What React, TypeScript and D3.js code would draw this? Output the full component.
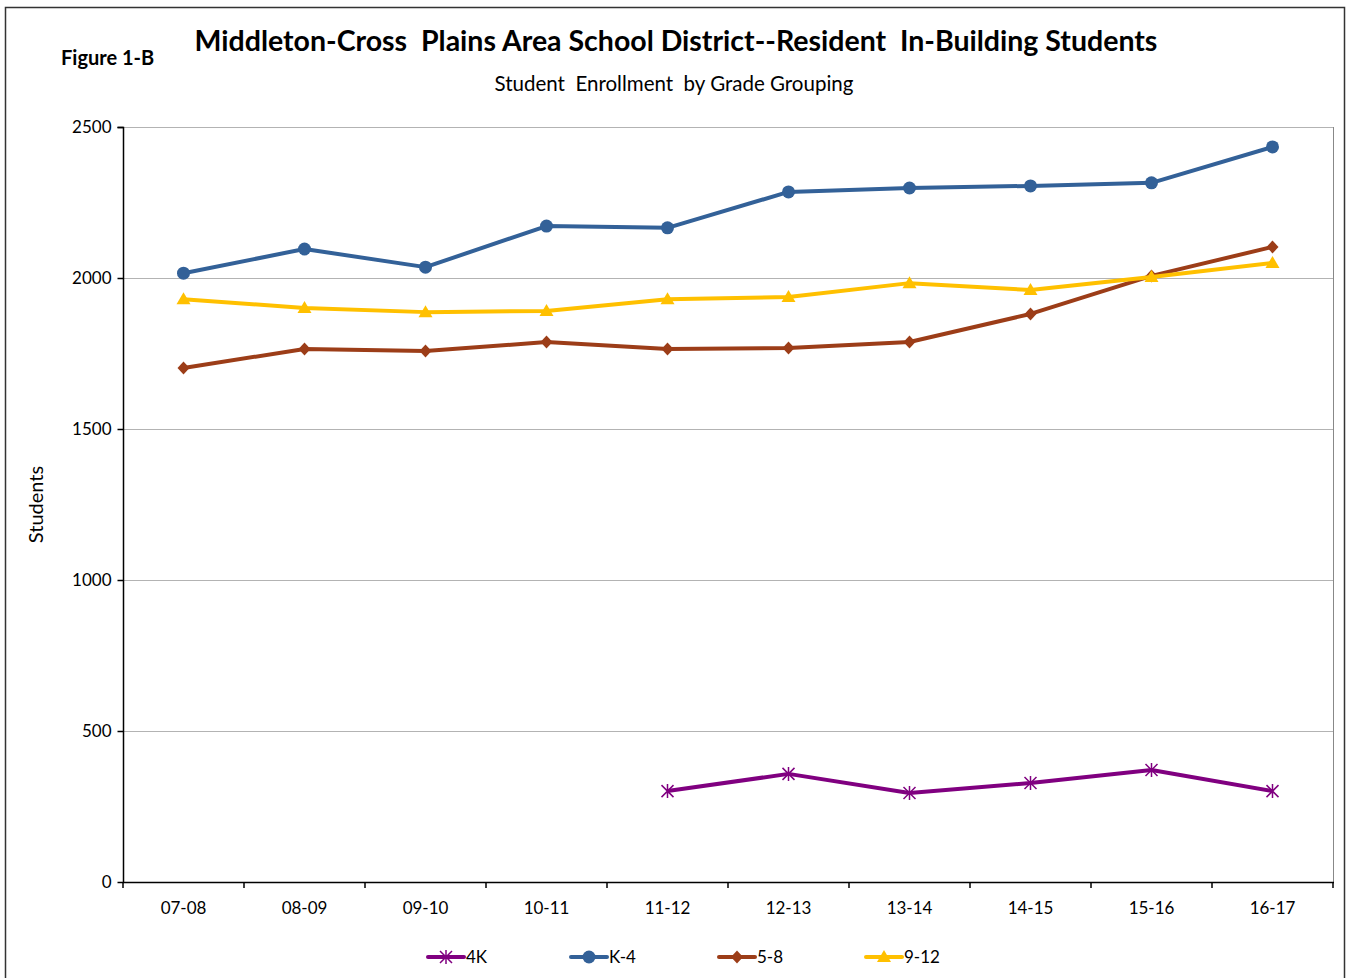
import React, { useEffect, useRef } from 'react';
import * as d3 from 'd3';

// Data
const years = ['07-08', '08-09', '09-10', '10-11', '11-12', '12-13', '13-14', '14-15', '15-16', '16-17'];
const k4 = [2016, 2096, 2036, 2172, 2166, 2285, 2298, 2305, 2315, 2434];
const g58 = [1702, 1765, 1758, 1788, 1765, 1768, 1788, 1881, 2007, 2103];
const g912 = [1930, 1901, 1887, 1891, 1930, 1937, 1983, 1960, 2003, 2050];
const fourK: (number | null)[] = [null, null, null, null, 301, 358, 295, 328, 371, 301];
const yTicks = [0, 500, 1000, 1500, 2000, 2500];

const FONT = "Lato, 'Open Sans', sans-serif";

const series = [
  { name: '4K', values: fourK, color: '#800080', marker: 'star' },
  { name: 'K-4', values: k4, color: '#336198', marker: 'circle' },
  { name: '5-8', values: g58, color: '#9C3D18', marker: 'diamond' },
  { name: '9-12', values: g912, color: '#FFC000', marker: 'triangle' },
];

const App: React.FC = () => {
  const svgRef = useRef<SVGSVGElement>(null);

  useEffect(() => {
    if (!svgRef.current) return;
    const width = 1350;
    const height = 978;
    const svg = d3.select(svgRef.current);
    svg.selectAll('*').remove();
    svg.attr('width', width).attr('height', height);

    svg.append('rect').attr('width', width).attr('height', height).attr('fill', '#fff');
    // outer chart frame
    svg.append('rect')
      .attr('x', 5.5).attr('y', 7.5).attr('width', 1339).attr('height', 990)
      .attr('fill', 'none').attr('stroke', '#333').attr('stroke-width', 1.5);

    const left = 123, right = 1333, top = 127, bottom = 882;

    const x = d3.scaleBand().domain(years).range([left, right]);
    const y = d3.scaleLinear().domain([0, 2500]).range([bottom, top]);

    // gridlines
    svg.append('g')
      .selectAll('line')
      .data(yTicks.filter(t => t > 0))
      .enter()
      .append('line')
      .attr('x1', left).attr('x2', right)
      .attr('y1', d => y(d) + 0.5).attr('y2', d => y(d) + 0.5)
      .attr('stroke', '#b3b3b3').attr('stroke-width', 1);

    // right border of plot area
    svg.append('line')
      .attr('x1', right + 0.5).attr('x2', right + 0.5)
      .attr('y1', top).attr('y2', bottom)
      .attr('stroke', '#888').attr('stroke-width', 1);

    // y axis
    const yAxis = svg.append('g')
      .attr('transform', `translate(${left + 0.5},0)`)
      .call(d3.axisLeft(y).tickValues(yTicks).tickFormat(d3.format('d')).tickSize(6).tickPadding(6));
    yAxis.select('.domain').attr('stroke', '#000').attr('stroke-width', 1.5).attr('d', `M-6,${top + 0.5}H0V${bottom}`);
    yAxis.selectAll('.tick line').attr('stroke', '#000').attr('stroke-width', 1.5);
    yAxis.selectAll('.tick text').attr('font-family', FONT).attr('font-size', 17).attr('fill', '#000');

    // x axis
    const xAxis = svg.append('g')
      .attr('transform', `translate(0,${bottom + 0.5})`)
      .call(d3.axisBottom(x).tickSize(0).tickPadding(19));
    xAxis.select('.domain').attr('stroke', '#000').attr('stroke-width', 1.5).attr('d', `M${left},0H${right + 1}`);
    xAxis.selectAll('.tick text').attr('font-family', FONT).attr('font-size', 17).attr('fill', '#000');
    svg.append('g')
      .selectAll('line')
      .data(d3.range(years.length + 1))
      .enter()
      .append('line')
      .attr('x1', i => left + i * x.bandwidth()).attr('x2', i => left + i * x.bandwidth())
      .attr('y1', bottom).attr('y2', bottom + 6)
      .attr('stroke', '#000').attr('stroke-width', 1.5);

    const cx = (d: string) => (x(d) as number) + x.bandwidth() / 2;

    const drawMarker = (g: d3.Selection<SVGGElement, unknown, null, undefined>, type: string, px: number, py: number, color: string) => {
      if (type === 'circle') {
        g.append('circle').attr('cx', px).attr('cy', py).attr('r', 6.5).attr('fill', color);
      } else if (type === 'diamond') {
        g.append('path').attr('d', `M${px},${py - 6.5}L${px + 6},${py}L${px},${py + 6.5}L${px - 6},${py}Z`).attr('fill', color);
      } else if (type === 'triangle') {
        g.append('path').attr('d', `M${px},${py - 7}L${px + 7},${py + 5}L${px - 7},${py + 5}Z`).attr('fill', color);
      } else if (type === 'star') {
        const s = 6;
        g.append('path')
          .attr('d', `M${px - s},${py - s}L${px + s},${py + s}M${px - s},${py + s}L${px + s},${py - s}M${px},${py - s - 1}L${px},${py + s + 1}`)
          .attr('stroke', color).attr('stroke-width', 1.5).attr('fill', 'none');
      }
    };

    const line = d3.line<{ year: string; v: number | null }>()
      .defined(d => d.v !== null)
      .x(d => cx(d.year))
      .y(d => y(d.v as number));

    series.forEach(s => {
      const pts = years.map((yr, i) => ({ year: yr, v: s.values[i] }));
      const g = svg.append('g');
      g.append('path')
        .datum(pts)
        .attr('d', line)
        .attr('fill', 'none')
        .attr('stroke', s.color)
        .attr('stroke-width', 4)
        .attr('stroke-linejoin', 'round');
      pts.filter(p => p.v !== null).forEach(p => drawMarker(g, s.marker, cx(p.year), y(p.v as number), s.color));
    });

    // legend
    const legendX = [428, 571, 719, 866];
    series.forEach((s, i) => {
      const g = svg.append('g');
      const lx = legendX[i];
      const ly = 957;
      g.append('line').attr('x1', lx).attr('x2', lx + 36).attr('y1', ly).attr('y2', ly)
        .attr('stroke', s.color).attr('stroke-width', 4).attr('stroke-linecap', 'round');
      drawMarker(g, s.marker, lx + 18, ly, s.color);
      g.append('text').attr('x', lx + 38).attr('y', ly + 6)
        .attr('font-family', FONT).attr('font-size', 17).attr('fill', '#000').text(s.name);
    });

    // titles
    svg.append('text').attr('x', 676).attr('y', 51).attr('text-anchor', 'middle')
      .attr('font-family', FONT).attr('font-weight', 'bold').attr('font-size', 28.5).attr('fill', '#000')
      .attr('xml:space', 'preserve')
      .text('Middleton-Cross  Plains Area School District--Resident  In-Building Students');
    svg.append('text').attr('x', 674).attr('y', 91).attr('text-anchor', 'middle')
      .attr('font-family', FONT).attr('font-size', 20.5).attr('fill', '#000')
      .attr('xml:space', 'preserve')
      .text('Student  Enrollment  by Grade Grouping');
    svg.append('text').attr('x', 61).attr('y', 65)
      .attr('font-family', FONT).attr('font-weight', 'bold').attr('font-size', 20).attr('fill', '#000')
      .text('Figure 1-B');
    svg.append('text')
      .attr('transform', `translate(43,${(top + bottom) / 2}) rotate(-90)`)
      .attr('text-anchor', 'middle')
      .attr('font-family', FONT).attr('font-size', 20).attr('fill', '#000')
      .text('Students');
  }, []);

  return (
    <div style={{ position: 'absolute', left: 0, top: 0 }}>
      <svg ref={svgRef} style={{ display: 'block' }}></svg>
    </div>
  );
};

export default App;
